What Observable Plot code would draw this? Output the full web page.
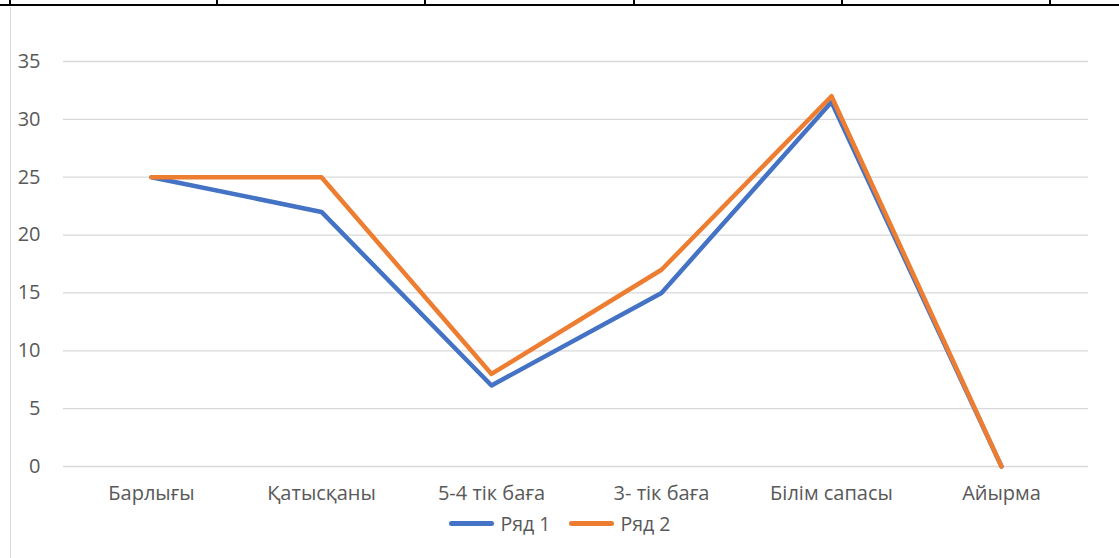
<!DOCTYPE html>
<html>
<head>
<meta charset="utf-8">
<script src="https://cdn.jsdelivr.net/npm/d3@7"></script>
<script src="https://cdn.jsdelivr.net/npm/@observablehq/plot@0.6"></script>
<style>
  html, body { margin: 0; padding: 0; background: #fff; }
  #wrap { position: relative; width: 1119px; height: 558px; overflow: hidden; font-family: "Open Sans", sans-serif; }
  .hb { position: absolute; left: 0; top: 4px; width: 1119px; height: 2px; background: #000; }
  .vb { position: absolute; top: 0; width: 2px; height: 6px; background: #000; }
  .frame { position: absolute; left: 10px; top: 7px; width: 1px; height: 551px; background: #d9d9d9; }
  #chart { position: absolute; left: 0; top: 0; }
  #legend { position: absolute; top: 510px; left: 0; width: 1119px; display: flex; justify-content: center; gap: 18px; font-size: 19.5px; color: #595959; padding-left: 0; }
  .item { display: flex; align-items: center; gap: 7px; }
  .sw { width: 45px; height: 5px; border-radius: 3px; }
</style>
</head>
<body>
<div id="wrap">
  <div class="frame"></div>
  <div class="hb"></div>
  <div id="chart"></div>
  <div id="legend"></div>
</div>
<script>
const categories = ["Барлығы", "Қатысқаны", "5-4 тік баға", "3- тік баға", "Білім сапасы", "Айырма"];
const seriesNames = ["Ряд 1", "Ряд 2"];
const series1 = [25, 22, 7, 15, 31.5, 0];
const series2 = [25, 25, 8, 17, 32, 0];
const colors = ["#4472C4", "#ED7D31"];
const yTicks = [0, 5, 10, 15, 20, 25, 30, 35];
const tableCols = [10, 217, 425, 634, 842, 1050];

const wrap = document.getElementById("wrap");
for (const x of tableCols) {
  const d = document.createElement("div");
  d.className = "vb";
  d.style.left = (x - 1) + "px";
  wrap.appendChild(d);
}

const data = [];
categories.forEach((c, i) => {
  data.push({cat: c, value: series1[i], series: seriesNames[0]});
});
categories.forEach((c, i) => {
  data.push({cat: c, value: series2[i], series: seriesNames[1]});
});

const plot = Plot.plot({
  width: 1119,
  height: 510,
  marginLeft: 63,
  marginRight: 31,
  marginTop: 61,
  marginBottom: 44,
  style: {fontFamily: "Open Sans, sans-serif", color: "#595959", background: "transparent"},
  x: {type: "point", domain: categories, padding: 0.5, label: null},
  y: {domain: [0, 35], label: null},
  color: {domain: seriesNames, range: colors},
  marks: [
    Plot.ruleY(yTicks, {stroke: "#d9d9d9", strokeWidth: 1.3}),
    Plot.axisY({ticks: yTicks, tickSize: 0, tickPadding: 23, label: null, fill: "#595959", fontSize: 20}),
    Plot.axisX({tickSize: 0, tickPadding: 19, label: null, fill: "#595959", fontSize: 20}),
    Plot.line(data, {x: "cat", y: "value", stroke: "series", z: "series", strokeWidth: 4.5, strokeLinejoin: "round", strokeLinecap: "round"})
  ]
});
document.getElementById("chart").appendChild(plot);

const legend = document.getElementById("legend");
seriesNames.forEach((s, i) => {
  const it = document.createElement("div");
  it.className = "item";
  const sw = document.createElement("div");
  sw.className = "sw";
  sw.style.background = colors[i];
  const t = document.createElement("span");
  t.textContent = s;
  it.appendChild(sw);
  it.appendChild(t);
  legend.appendChild(it);
});
</script>
</body>
</html>
